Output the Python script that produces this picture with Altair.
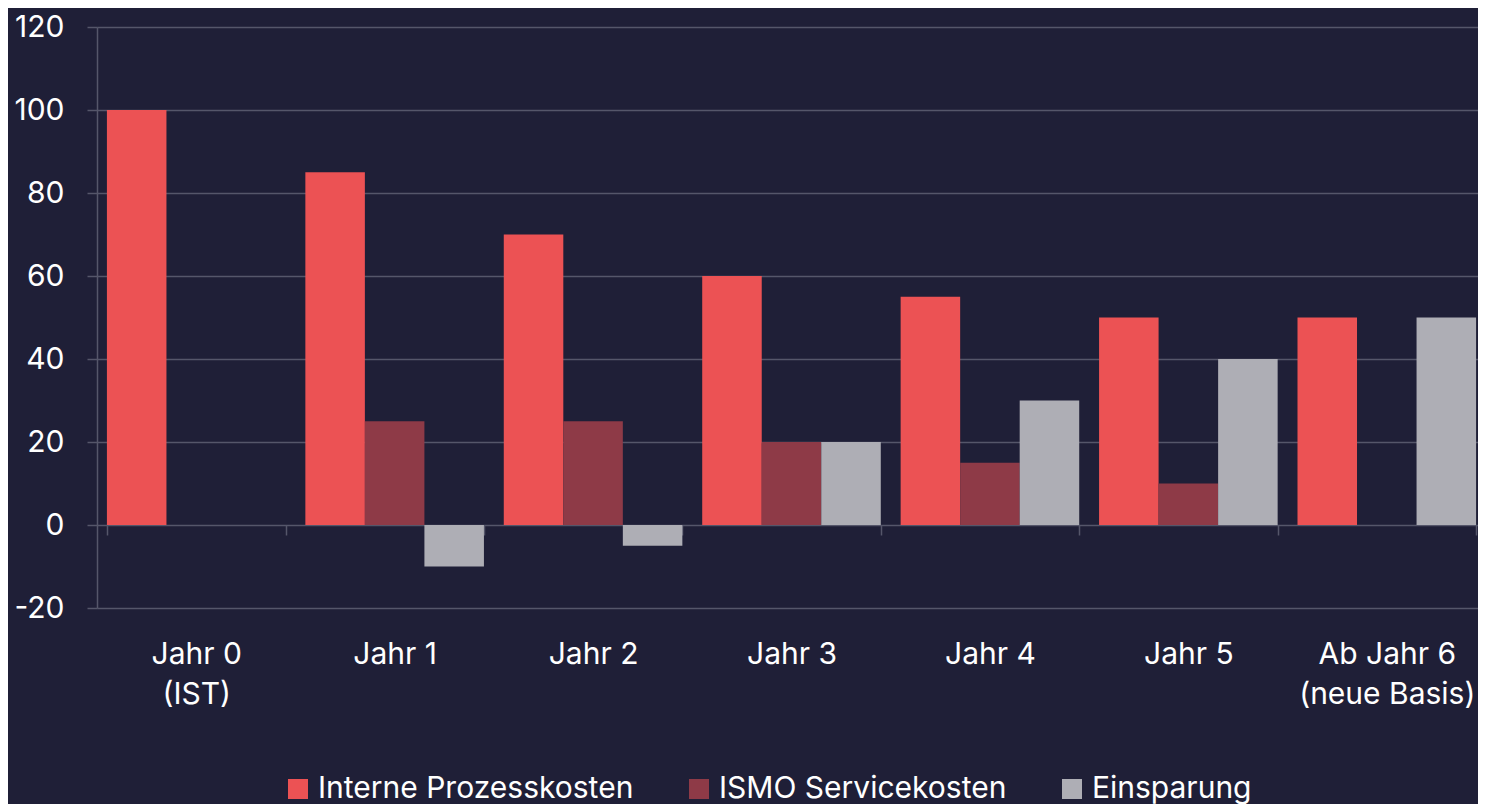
import altair as alt
import pandas as pd

groups = ["Jahr 0\n(IST)", "Jahr 1", "Jahr 2", "Jahr 3", "Jahr 4", "Jahr 5", "Ab Jahr 6\n(neue Basis)"]
series = ["Interne Prozesskosten", "ISMO Servicekosten", "Einsparung"]
interne = [100, 85, 70, 60, 55, 50, 50]
ismo = [None, 25, 25, 20, 15, 10, None]
einsparung = [None, -10, -5, 20, 30, 40, 50]
colors = ["#ec5254", "#8e3a47", "#aeaeb5"]
y_ticks = [-20, 0, 20, 40, 60, 80, 100, 120]

rows = []
for s, vals in zip(series, [interne, ismo, einsparung]):
    for g, v in zip(groups, vals):
        if v is not None:
            rows.append({"Gruppe": g, "Serie": s, "Wert": v})
df = pd.DataFrame(rows)

BG = "#1f1f37"
GRID = "#55566a"
FONT = "Inter"
FS = 30

PLOT_H = 581
zero_offset = -PLOT_H * 20 / 140

chart = alt.Chart(df).mark_bar(clip=True).encode(
    x=alt.X(
        "Gruppe:N",
        sort=groups,
        scale=alt.Scale(range=[0, 1389], paddingInner=0.1, paddingOuter=0.05),
        axis=alt.Axis(
            title=None,
            offset=zero_offset,
            domain=False,
            ticks=True,
            tickSize=10,
            tickColor=GRID,
            tickWidth=1.5,
            tickBand="extent",
            grid=False,
            labelAngle=0,
            labelPadding=104,
            labelFont=FONT,
            labelFontSize=FS,
            labelColor="#ffffff",
            labelLimit=400,
            labelLineHeight=40,
            labelExpr="split(datum.label, '\\n')",
        ),
    ),
    xOffset=alt.XOffset("Serie:N", sort=series),
    y=alt.Y(
        "Wert:Q",
        scale=alt.Scale(domain=[-20, 120], nice=False),
        axis=alt.Axis(
            title=None,
            values=y_ticks,
            domain=True,
            domainColor=GRID,
            domainWidth=1.5,
            grid=True,
            gridColor=GRID,
            gridWidth=1.5,
            ticks=True,
            tickSize=10,
            tickColor=GRID,
            tickWidth=1.5,
            labelPadding=23,
            labelFont=FONT,
            labelFontSize=FS,
            labelColor="#ffffff",
            labelExpr="'' + datum.value",
        ),
    ),
    color=alt.Color(
        "Serie:N",
        sort=series,
        scale=alt.Scale(domain=series, range=colors),
        legend=alt.Legend(
            title=None,
            orient="none",
            direction="horizontal",
            legendX=186,
            legendY=747,
            symbolType="square",
            symbolSize=400,
            symbolStrokeWidth=0,
            symbolOpacity=1,
            labelFont=FONT,
            labelFontSize=FS,
            labelColor="#ffffff",
            labelLimit=500,
            labelOffset=5,
            columnPadding=50,
        ),
    ),
).properties(
    width=1381,
    height=PLOT_H,
    background=BG,
    padding={"left": 89, "top": 19, "right": 0, "bottom": 196},
    autosize=alt.AutoSizeParams(type="none"),
).configure_view(stroke=None)

chart.save("out.html", embed_options={"renderer": "svg", "actions": False})
